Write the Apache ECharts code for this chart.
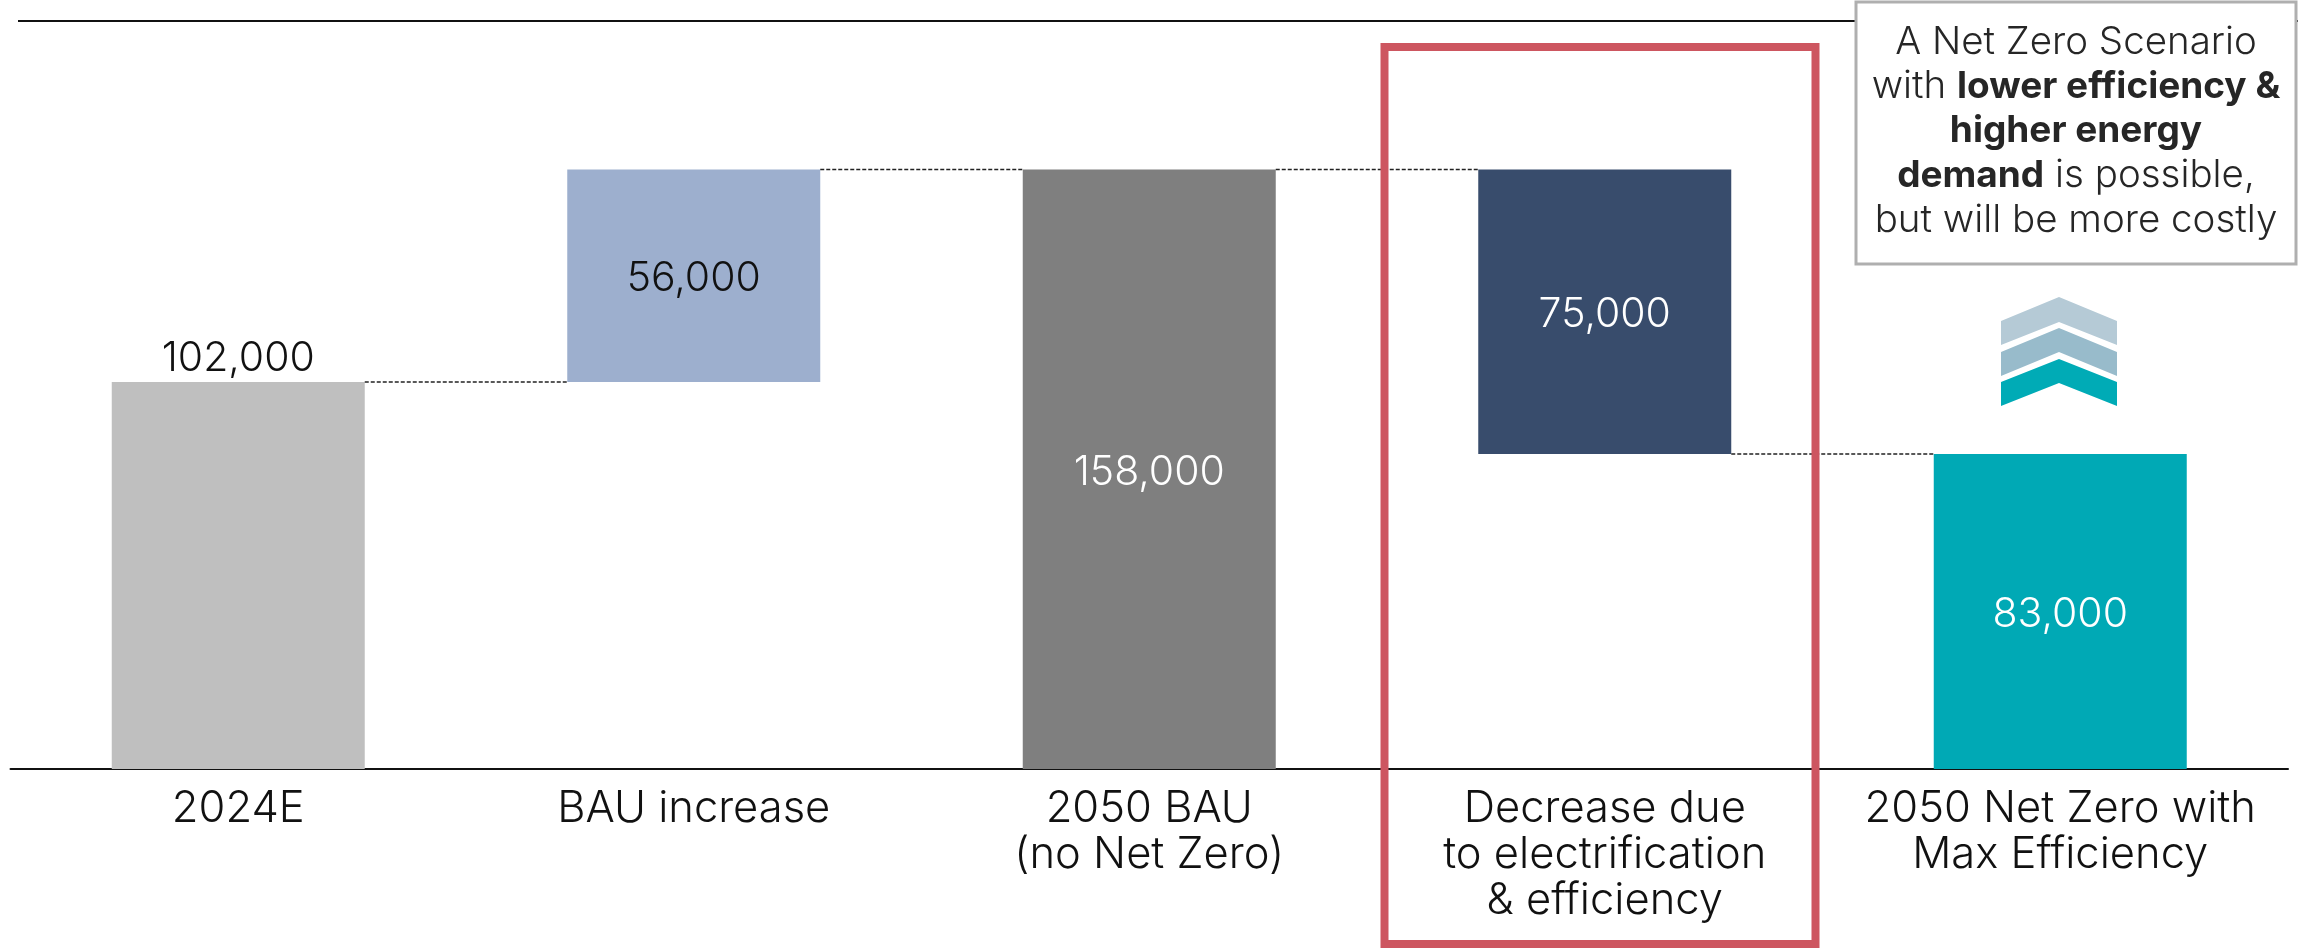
<!DOCTYPE html>
<html>
<head>
<meta charset="utf-8">
<style>html,body{margin:0;padding:0;background:#fff}#chart{width:2305px;height:952px}</style>
<script src="https://cdn.jsdelivr.net/npm/echarts@6/dist/echarts.min.js"></script>
</head>
<body>
<div id="chart"></div>
<script>
// Energy demand bridge from 2024 to 2050 Net Zero
const categories = ['2024E', 'BAU increase', '2050 BAU\n(no Net Zero)', 'Decrease due\nto electrification\n& efficiency', '2050 Net Zero with\nMax Efficiency'];
const barValues = [102000, 56000, 158000, 75000, 83000];
const barBases = [0, 102000, 0, 83000, 0];
const barColors = ['#BFBFBF', '#9DAFCE', '#7F7F7F', '#384C6C', '#00A9B5'];
const labelColors = ['#111111', '#111111', '#FFFFFF', '#FFFFFF', '#FFFFFF'];
// Connector level leaving each bar towards the next one
const connectorLevels = [102000, 158000, 158000, 83000];
const axisMax = 200000;

const FONT = 'Inter';
const chart = echarts.init(document.getElementById('chart'), null, { renderer: 'canvas' });

const gridLeft = 10.5, gridWidth = 2277.5, gridBottomY = 769, gridTopY = 769 - axisMax * 387 / 102000;
const barWidth = 253;

function chevron(apex, shoulder, lowerShoulder, inner, fill) {
  const l = 2001, r = 2117, c = 2059;
  return { type: 'polygon', silent: true, shape: { points: [[l, shoulder], [c, apex], [r, shoulder], [r, lowerShoulder], [c, inner], [l, lowerShoulder]] }, style: { fill } };
}

chart.setOption({
  animation: false,
  backgroundColor: '#fff',
  grid: { left: gridLeft, width: gridWidth, top: gridTopY, bottom: 952 - gridBottomY, containLabel: false },
  xAxis: {
    type: 'category', data: categories,
    axisLine: { show: true, lineStyle: { color: '#111', width: 2 } }, axisTick: { show: false },
    axisLabel: { interval: 0, color: '#111', fontFamily: FONT, fontWeight: 300, fontSize: 43.5, lineHeight: 46, margin: 17 }
  },
  yAxis: { type: 'value', min: 0, max: axisMax, show: false, splitLine: { show: false } },
  series: [
    { name: 'base', type: 'bar', stack: 'bridge', barWidth, silent: true, itemStyle: { color: 'transparent' }, data: barBases },
    {
      name: 'value', type: 'bar', stack: 'bridge', barWidth, silent: true,
      data: barValues.map((v, i) => ({
        value: v,
        itemStyle: { color: barColors[i] },
        label: {
          show: true, position: i === 0 ? 'top' : 'inside', distance: 3, offset: i === 0 ? [0, 0] : [0, 3],
          formatter: () => v.toLocaleString('en-US'),
          color: labelColors[i], fontFamily: FONT, fontWeight: 300, fontSize: 41
        }
      }))
    },
    {
      name: 'connectors', type: 'custom', silent: true, z: 3,
      data: connectorLevels.map((v, i) => [i, v]),
      encode: { x: 0, y: 1 },
      renderItem(params, api) {
        const i = api.value(0), v = api.value(1);
        const half = barWidth / 2;
        const a = api.coord([i, v]), b = api.coord([i + 1, v]);
        return { type: 'line', silent: true, shape: { x1: a[0] + half, y1: a[1], x2: b[0] - half, y2: b[1] }, style: { stroke: '#222', lineWidth: 1.5, lineDash: [4, 2] } };
      }
    }
  ],
  graphic: [
    { type: 'line', silent: true, z: 1, shape: { x1: 18, y1: 21, x2: 2298, y2: 21 }, style: { stroke: '#111', lineWidth: 2 } },
    { type: 'rect', silent: true, z: 10, shape: { x: 1384.5, y: 47, width: 431, height: 897 }, style: { fill: 'transparent', stroke: '#CD5660', lineWidth: 8 } },
    { type: 'rect', silent: true, z: 11, shape: { x: 1856, y: 2, width: 440, height: 262 }, style: { fill: '#fff', stroke: '#AFAFAF', lineWidth: 3 } },
    {
      type: 'text', silent: true, z: 12, x: 2076, y: 20,
      style: {
        text: 'A Net Zero Scenario\nwith {b|lower efficiency &}\n{b|higher energy}\n{b|demand} is possible,\nbut will be more costly',
        align: 'center', verticalAlign: 'top', fill: '#262626', fontFamily: FONT, fontWeight: 300, fontSize: 38.5, lineHeight: 44.5,
        rich: { b: { fontFamily: FONT, fontWeight: 700, fontSize: 37, lineHeight: 44.5, fill: '#262626' } }
      }
    },
    chevron(297, 321, 345, 322, '#B5CAD6'),
    chevron(328, 352, 376, 352, '#98BBCB'),
    chevron(359, 382, 406, 383, '#00ABB6')
  ]
});
</script>
</body>
</html>
